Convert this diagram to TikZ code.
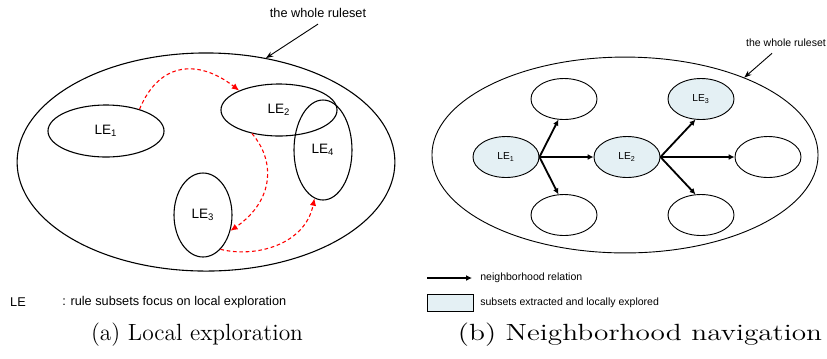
\documentclass[tikz,border=0pt]{standalone}
\usepackage{fontspec}
\newfontfamily\arialfont{Liberation Sans}
\usetikzlibrary{positioning, arrows.meta, shapes.geometric}
\definecolor{explored}{RGB}{228,240,244}
\tikzset{
    whole/.style={draw, ellipse, inner sep=0pt, line width=0.6pt},
    subset/.style={draw, ellipse, inner sep=0pt, line width=0.6pt, font=\arialfont\fontsize{7.5}{9}\selectfont},
    hop/.style={draw, ellipse, inner sep=0pt, line width=0.5pt, minimum width=1.277cm, minimum height=0.793cm, font=\arialfont\fontsize{5.6}{7}\selectfont},
    visited/.style={fill=explored},
    jump/.style={red, line width=0.6pt, dash pattern=on 2pt off 1.5pt, -{Latex[length=4pt,width=3.5pt]}},
    nbr/.style={line width=1pt, -{Latex[length=3.2pt,width=3.2pt]}},
    pointer/.style={line width=0.5pt, -{Stealth[length=4pt,width=3pt]}}
}

\begin{document}
\begin{tikzpicture}[x=0.01935cm, y=-0.01935cm]
            \useasboundingbox (0,0) rectangle (827,358);
            \begin{scope}
                \node[whole, minimum width=7.31cm, minimum height=4.22cm] (W) at (206,162){};
                \node[subset, minimum width=2.245cm, minimum height=1.006cm] (A) at (106,131){LE\textsubscript{1}};
                \node[subset, minimum width=2.245cm, minimum height=1.006cm] (B) at (279,110){LE\textsubscript{2}};
                \node[subset, minimum width=1.122cm, minimum height=1.625cm] (C) at (203,215){LE\textsubscript{3}};
                \node[subset, minimum width=1.122cm, minimum height=1.935cm] (D) at (323,150){LE\textsubscript{4}};
                \node[font=\arialfont\fontsize{7}{8}\selectfont] (T) at (318,13){the whole ruleset};
                \draw[pointer] (T.south) -- (W.60);
                \draw[jump] (A.33) .. controls (160,60) and (200,60) .. (B.154);
                \draw[jump] (B.221) .. controls (275,160) and (275,200) .. (C.-30);
                \draw[jump] (C.-63) .. controls (255,258) and (305,245) .. (D.260);
                \node[font=\arialfont\fontsize{7}{8}\selectfont] (L) at (18,302){LE};
                \node[font=\arialfont\fontsize{7}{8}\selectfont, anchor=west, inner sep=0pt] (LT) at (62,302){: rule subsets focus on local exploration};
                \node[font=\fontsize{12.9}{15}\selectfont] (CA) at (197,335){(a) Local exploration};
            \end{scope}
            \begin{scope}
                \node[whole, line width=0.5pt, minimum width=7.47cm, minimum height=3.79cm] (V) at (625,155){};
                \node[hop] (N1) at (564,99){};
                \node[hop, visited] (E1) at (506,157){LE\textsubscript{1}};
                \node[hop] (N2) at (564,215){};
                \node[hop, visited] (E2) at (627,157){LE\textsubscript{2}};
                \node[hop, visited] (E3) at (701,99){LE\textsubscript{3}};
                \node[hop] (N3) at (768,157){};
                \node[hop] (N4) at (701,215){};
                \draw[nbr] (E1.east) -- (N1.255);
                \draw[nbr] (E1.east) -- (E2.west);
                \draw[nbr] (E1.east) -- (N2.105);
                \draw[nbr] (E2.east) -- (E3.255);
                \draw[nbr] (E2.east) -- (N3.west);
                \draw[nbr] (E2.east) -- (N4.105);
                \node[font=\arialfont\fontsize{5.8}{7}\selectfont] (U) at (786,43){the whole ruleset};
                \draw[pointer] ([xshift=-0.27cm]U.south) -- (V.33);
                \coordinate (K1) at (427,278);
                \coordinate (K2) at (472,278);
                \draw[nbr] (K1) -- (K2);
                \node[font=\arialfont\fontsize{5.8}{7}\selectfont, anchor=west, inner sep=0pt] (R1) at (480,278){neighborhood relation};
                \node[draw, visited, line width=0.4pt, minimum width=0.89cm, minimum height=0.33cm, inner sep=0pt] (S) at (450,303){};
                \node[font=\arialfont\fontsize{5.8}{7}\selectfont, anchor=west, inner sep=0pt] (R2) at (480,303){subsets extracted and locally explored};
                \node[font=\fontsize{12.9}{15}\selectfont, xscale=1.25] (CB) at (640,335){(b) Neighborhood navigation};
            \end{scope}
        \end{tikzpicture}
\end{document}
